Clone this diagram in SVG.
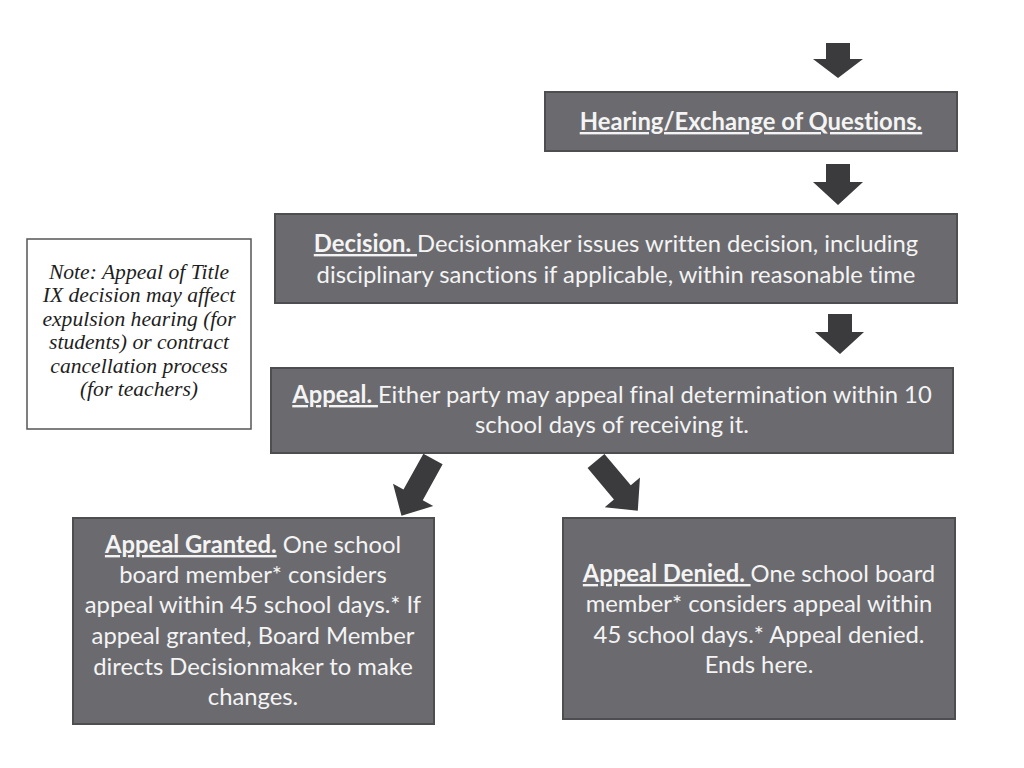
<svg xmlns="http://www.w3.org/2000/svg" width="1024" height="768" viewBox="0 0 1024 768">
<style>
.box{fill:#6b6b6f;stroke:#4e4e50;stroke-width:2}
.note{fill:#ffffff;stroke:#555555;stroke-width:1.5}
.t{font-family:Lato,"Open Sans","Liberation Sans",sans-serif;font-size:23.8px;fill:#f4f4f4;text-anchor:middle;font-variant-ligatures:none}
.b{font-weight:bold;text-decoration:underline}
.n{font-family:"Liberation Serif","DejaVu Serif",serif;font-style:italic;font-size:21.6px;fill:#1e1e1e;text-anchor:middle}
.arr{fill:#3b3b3d}
</style>
<defs>
<path id="diag" d="M-11,0 L11,0 L11,41 L23,41 L0,65 L-23,41 L-11,41 Z"/>
</defs>
<rect width="1024" height="768" fill="#ffffff"/>
<g id="connectors" class="arr">
<path d="M826,43 L850,43 L850,59 L863,59 L838,78 L813,59 L826,59 Z"/>
<path d="M826,164 L850,164 L850,182 L863,182 L838,205 L813,182 L826,182 Z"/>
<path d="M828,314 L852,314 L852,332 L864,332 L840,354 L815,332 L828,332 Z"/>
<use href="#diag" transform="translate(433,459) rotate(29)"/>
<use href="#diag" transform="translate(596,461) rotate(-40)"/>
</g>
<g id="hearing">
<rect class="box" x="545" y="92" width="412" height="59"/>
<text class="t" x="751" y="130"><tspan class="b">Hearing/Exchange of Questions.</tspan></text>
</g>
<g id="decision">
<rect class="box" x="275" y="214" width="682" height="89"/>
<text class="t" x="616" y="252"><tspan class="b">Decision. </tspan>Decisionmaker issues written decision, including</text>
<text class="t" x="616" y="283">disciplinary sanctions if applicable, within reasonable time</text>
</g>
<g id="note">
<rect class="note" x="27" y="239" width="224" height="190"/>
<text class="n" x="139" y="279">Note: Appeal of Title</text>
<text class="n" x="139" y="302">IX decision may affect</text>
<text class="n" x="139" y="326">expulsion hearing (for</text>
<text class="n" x="139" y="349">students) or contract</text>
<text class="n" x="139" y="373">cancellation process</text>
<text class="n" x="139" y="396">(for teachers)</text>
</g>
<g id="appeal">
<rect class="box" x="271" y="368" width="682" height="85"/>
<text class="t" x="612" y="403"><tspan class="b">Appeal. </tspan>Either party may appeal final determination within 10</text>
<text class="t" x="612" y="433">school days of receiving it.</text>
</g>
<g id="granted">
<rect class="box" x="73" y="518" width="361" height="206"/>
<text class="t" x="253" y="553"><tspan class="b">Appeal Granted.</tspan> One school</text>
<text class="t" x="253" y="583">board member* considers</text>
<text class="t" x="253" y="613">appeal within 45 school days.* If</text>
<text class="t" x="253" y="644">appeal granted, Board Member</text>
<text class="t" x="253" y="675">directs Decisionmaker to make</text>
<text class="t" x="253" y="705">changes.</text>
</g>
<g id="denied">
<rect class="box" x="563" y="518" width="392" height="201"/>
<text class="t" x="759" y="582"><tspan class="b">Appeal Denied. </tspan>One school board</text>
<text class="t" x="759" y="612">member* considers appeal within</text>
<text class="t" x="759" y="643">45 school days.* Appeal denied.</text>
<text class="t" x="759" y="673">Ends here.</text>
</g>
</svg>
